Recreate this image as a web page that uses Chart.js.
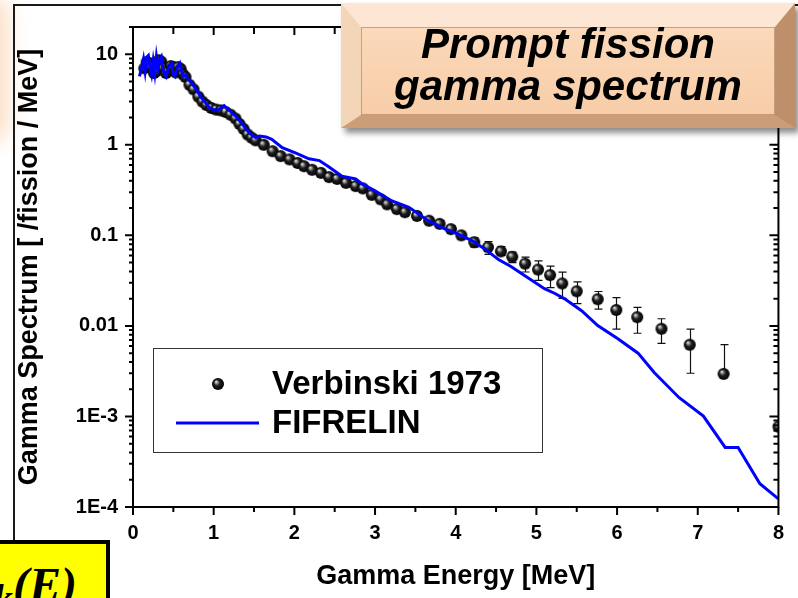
<!DOCTYPE html>
<html>
<head>
<meta charset="utf-8">
<script src="https://cdn.jsdelivr.net/npm/chart.js@4.4.1/dist/chart.umd.min.js"></script>
<style>
  body { margin:0; width:798px; height:598px; overflow:hidden; background:#fff; position:relative; }
  #glow { position:absolute; left:-36px; top:-6px; width:46px; height:150px; background:#f8c08e; filter:blur(9px); opacity:.45; border-radius:24px; }
  #frame { position:absolute; left:13px; top:4px; width:800px; height:700px; border:2px solid #1a1a1a; }
  #wrap { position:absolute; left:0; top:0; width:798px; height:598px; }
  #title { position:absolute; left:341px; top:3px; width:454px; height:125px; box-sizing:border-box;
    border-style:solid; border-width:24px 20px 13px 20px;
    border-color:#fde7d4 #bd8f6b #cc9e78 #f3d5b8;
    background:linear-gradient(#fbd9ba, #f7cda8);
    box-shadow:4px 5px 6px rgba(0,0,0,.45); }
  #title .face { position:absolute; inset:0; border:1px solid rgba(160,115,80,.55);
    text-align:center; font:italic bold 42px "Liberation Sans", Arial, sans-serif; line-height:42px; color:#000; }
  #title .face div { position:relative; top:-5px; }
  #formula { position:absolute; left:-6px; top:540px; width:116px; height:70px; box-sizing:border-box;
    background:#ffff00; border:4px solid #000; overflow:hidden; }
  #formula .f { position:absolute; right:29px; top:13px; font:italic bold 48px "Liberation Serif", serif; white-space:nowrap; }
</style>
</head>
<body>
<div id="glow"></div>
<div id="frame"></div>
<div id="wrap"><canvas id="chart" width="798" height="598"></canvas></div>
<div id="title"><div class="face"><div>Prompt fission<br>gamma spectrum</div></div></div>
<div id="formula"><span class="f">χ<sub>k</sub>(E)</span></div>
<script>
// FIFRELIN calculation (MeV, photons / fission / MeV)
const fifE = [0.08,0.11,0.13,0.15,0.17,0.19,0.21,0.23,0.25,0.27,0.29,0.31,0.33,0.35,0.37,0.39,0.41,0.43,0.45,0.48,
  0.50,0.52,0.55,0.58,0.60,0.62,0.65,0.68,0.72,0.76,0.80,0.85,0.90,0.95,1.00,1.05,1.10,1.13,1.17,1.22,
  1.28,1.35,1.45,1.52,1.57,1.65,1.72,1.85,2.02,2.18,2.31,2.43,2.59,2.76,2.84,3.00,3.21,3.42,3.66,3.87,
  4.03,4.20,4.36,4.53,4.69,4.82,5.10,5.23,5.35,5.56,5.76,6.01,6.26,6.46,6.77,7.07,7.34,7.50,7.77,8.00];
const fifV = [5.7,7.2,8.8,6.5,9.3,9.7,7.2,6.0,8.4,6.2,9.4,7.0,8.8,9.4,6.8,6.2,5.7,6.6,7.6,7.9,
  6.0,5.7,7.1,7.9,6.6,5.7,5.9,5.4,4.9,4.4,3.9,3.3,2.9,2.55,2.45,2.4,2.6,2.7,2.5,2.3,
  2.05,1.72,1.33,1.2,1.25,1.22,1.15,0.93,0.81,0.70,0.67,0.57,0.45,0.42,0.37,0.31,0.24,0.204,0.145,0.117,
  0.103,0.0875,0.0708,0.054,0.045,0.0376,0.0258,0.0228,0.0199,0.0147,0.0101,0.0072,0.0050,0.00306,0.00161,0.00101,0.000455,0.000455,0.000181,0.000123];

// Verbinski 1973 measurement
const verbE = [0.14,0.17,0.20,0.23,0.26,0.29,0.32,0.35,0.38,0.41,0.44,0.47,0.50,0.53,0.56,0.59,0.62,0.65,
  0.70,0.75,0.81,0.86,0.91,0.97,1.03,1.09,1.15,1.21,1.27,1.32,1.37,1.42,1.47,1.52,
  1.62,1.73,1.83,1.94,2.04,2.12,2.22,2.33,2.43,2.53,2.64,2.76,2.85,2.96,3.07,
  3.15,3.27,3.37,3.52,3.67,3.80,3.94,4.07,4.23,4.40,4.56,4.70,4.86,5.02,5.17,5.32,5.50,5.76,5.99,6.25,6.55,6.90,7.32,8.00];
const verbV = [7.0,8.2,8.0,7.2,6.2,6.5,8.6,8.3,7.0,6.2,6.6,7.4,7.2,6.3,7.2,6.9,6.0,5.6,
  4.6,4.1,3.4,3.0,2.75,2.55,2.45,2.4,2.3,2.15,1.95,1.7,1.5,1.3,1.2,1.12,
  1.0,0.85,0.75,0.69,0.63,0.58,0.53,0.49,0.44,0.42,0.38,0.35,0.33,0.28,0.25,
  0.22,0.195,0.18,0.164,0.145,0.134,0.117,0.100,0.084,0.074,0.0665,0.058,0.0487,0.0419,0.0364,0.0294,0.0241,0.0197,0.0150,0.0125,0.0093,0.0062,0.00295,0.00077];

// error bars on the measurement (upper / lower bounds)
const errE  = [2.96,3.07,3.15,3.27,3.37,3.52,3.67,3.80,3.94,4.07,4.23,4.40,4.56,4.70,4.86,5.02,5.17,5.32,5.50,5.76,5.99,6.25,6.55,6.90,7.32];
const errHi = [0.30,0.27,0.235,0.21,0.193,0.177,0.157,0.145,0.127,0.107,0.094,0.0855,0.0752,0.0654,0.0575,0.0523,0.0457,0.0393,0.0307,0.024,0.0205,0.016,0.012,0.0092,0.0062];
const errLo = [0.26,0.23,0.205,0.18,0.167,0.151,0.133,0.123,0.107,0.093,0.074,0.0618,0.060,0.050,0.0394,0.0318,0.0265,0.0201,0.0176,0.0153,0.0092,0.0083,0.0064,0.0030,0.00295];

const xTickValues = [0,1,2,3,4,5,6,7,8];
const xTickLabels = ['0','1','2','3','4','5','6','7','8'];
const yTickValues = [1e-4,1e-3,0.01,0.1,1,10];
const yTickLabels = ['1E-4','1E-3','0.01','0.1','1','10'];

const yMin = 1e-4, yMax = 20;
const blue = '#0000ff';
const tickFont = { family: '"Liberation Sans", Arial, sans-serif', size: 20, weight: 'bold' };
const titleFont = { family: '"Liberation Sans", Arial, sans-serif', size: 27, weight: 'bold' };

// minor + major positions for the log axis
const yAllTicks = [];
for (let d = -4; d <= 1; d++) {
  for (let m = 1; m <= 9; m++) {
    const v = parseFloat((m * Math.pow(10, d)).toPrecision(10));
    if (v <= yMax) yAllTicks.push(v);
  }
}
function yLabel(v) {
  const i = yTickValues.findIndex(t => Math.abs(v / t - 1) < 1e-6);
  return i < 0 ? '' : yTickLabels[i];
}

// shaded ball used as the marker
function makeSphere(r) {
  const c = document.createElement('canvas');
  const s = 2 * r + 2;
  c.width = c.height = s;
  const g = c.getContext('2d');
  const cx = s / 2;
  const grad = g.createRadialGradient(cx - r * 0.35, cx - r * 0.4, 0, cx, cx, r);
  grad.addColorStop(0, '#ffffff');
  grad.addColorStop(0.2, '#a0a0a0');
  grad.addColorStop(0.5, '#202020');
  grad.addColorStop(1, '#000000');
  g.fillStyle = grad;
  g.beginPath();
  g.arc(cx, cx, r, 0, Math.PI * 2);
  g.fill();
  return c;
}
const ball = makeSphere(6);

const frameAxes = {
  id: 'frameAxes',
  beforeDatasetsDraw(chart) {
    const { ctx, chartArea: a, scales: { x, y } } = chart;
    ctx.save();
    ctx.beginPath();
    ctx.rect(a.left, a.top, a.right - a.left, a.bottom - a.top);
    ctx.clip();
    ctx.strokeStyle = '#111';
    ctx.lineWidth = 1.2;
    errE.forEach((e, i) => {
      const px = Math.round(x.getPixelForValue(e)) + 0.5;
      const yt = y.getPixelForValue(errHi[i]);
      const yb = y.getPixelForValue(errLo[i]);
      ctx.beginPath();
      ctx.moveTo(px, yt); ctx.lineTo(px, yb);
      ctx.moveTo(px - 4, yt); ctx.lineTo(px + 4, yt);
      ctx.moveTo(px - 4, yb); ctx.lineTo(px + 4, yb);
      ctx.stroke();
    });
    ctx.restore();
  },
  afterDatasetsDraw(chart) {
    const { ctx, chartArea: a, scales: { x, y } } = chart;
    ctx.save();
    ctx.strokeStyle = '#000';
    ctx.lineWidth = 2;
    ctx.strokeRect(a.left, a.top, a.right - a.left, a.bottom - a.top);
    ctx.beginPath();
    // bottom (outward) and top (inward) ticks
    for (let v = 0; v <= 8.001; v += 0.5) {
      const px = x.getPixelForValue(v);
      const major = Math.abs(v - Math.round(v)) < 1e-6;
      ctx.moveTo(px, a.bottom); ctx.lineTo(px, a.bottom + (major ? 8 : 5));
      ctx.moveTo(px, a.top); ctx.lineTo(px, a.top + (major ? 8 : 7));
    }
    // left (outward) and right (inward) ticks
    yAllTicks.forEach(v => {
      const py = y.getPixelForValue(v);
      const major = yLabel(v) !== '';
      ctx.moveTo(a.left, py); ctx.lineTo(a.left - (major ? 8 : 4), py);
      ctx.moveTo(a.right, py); ctx.lineTo(a.right - (major ? 9 : 5), py);
    });
    ctx.stroke();

    // legend
    ctx.lineWidth = 1;
    ctx.strokeStyle = '#333';
    ctx.fillStyle = '#fff';
    ctx.fillRect(153, 348, 389, 104);
    ctx.strokeRect(153.5, 348.5, 389, 104);
    ctx.drawImage(ball, 218 - ball.width / 2, 384 - ball.height / 2);
    ctx.strokeStyle = blue;
    ctx.lineWidth = 3;
    ctx.beginPath();
    ctx.moveTo(176, 423); ctx.lineTo(259, 423);
    ctx.stroke();
    ctx.fillStyle = '#000';
    ctx.font = 'bold 33px "Liberation Sans", Arial, sans-serif';
    ctx.textBaseline = 'middle';
    ctx.fillText(chart.data.datasets[1].label, 272, 385);
    ctx.fillText(chart.data.datasets[0].label, 272, 424);
    ctx.restore();
  }
};

new Chart(document.getElementById('chart'), {
  type: 'scatter',
  data: {
    datasets: [
      {
        label: 'FIFRELIN',
        data: fifE.map((e, i) => ({ x: e, y: fifV[i] })),
        showLine: true,
        borderColor: blue,
        borderWidth: 3,
        pointRadius: 0,
        tension: 0,
        clip: 0,
        order: 0
      },
      {
        label: 'Verbinski 1973',
        data: verbE.map((e, i) => ({ x: e, y: verbV[i] })),
        pointStyle: ball,
        pointRadius: 6,
        showLine: false,
        clip: 0,
        order: 1
      }
    ]
  },
  options: {
    responsive: false,
    animation: false,
    layout: { padding: { top: 24, right: 16, left: 0, bottom: 0 } },
    plugins: { legend: { display: false }, tooltip: { enabled: false }, title: { display: false } },
    scales: {
      x: {
        type: 'linear',
        min: 0,
        max: 8,
        afterBuildTicks: s => { s.ticks = xTickValues.map(v => ({ value: v })); },
        afterFit: s => { s.height = 91; },
        ticks: {
          autoSkip: false, maxRotation: 0, padding: 14, color: '#000', font: tickFont,
          callback: v => xTickLabels[xTickValues.indexOf(v)]
        },
        grid: { display: false, drawTicks: false },
        border: { display: false },
        title: { display: true, text: 'Gamma Energy [MeV]', color: '#000', font: titleFont, padding: { top: 0, bottom: 5 } }
      },
      y: {
        type: 'logarithmic',
        min: yMin,
        max: yMax,
        afterBuildTicks: s => { s.ticks = yAllTicks.map(v => ({ value: v })); },
        afterFit: s => { s.width = 133; },
        ticks: { autoSkip: false, padding: 15, color: '#000', font: tickFont, callback: v => yLabel(v) },
        grid: { display: false, drawTicks: false },
        border: { display: false },
        title: { display: true, text: 'Gamma Spectrum [ /fission / MeV]', color: '#000', font: titleFont, padding: { top: 13, bottom: 0 } }
      }
    }
  },
  plugins: [frameAxes]
});
</script>
</body>
</html>
